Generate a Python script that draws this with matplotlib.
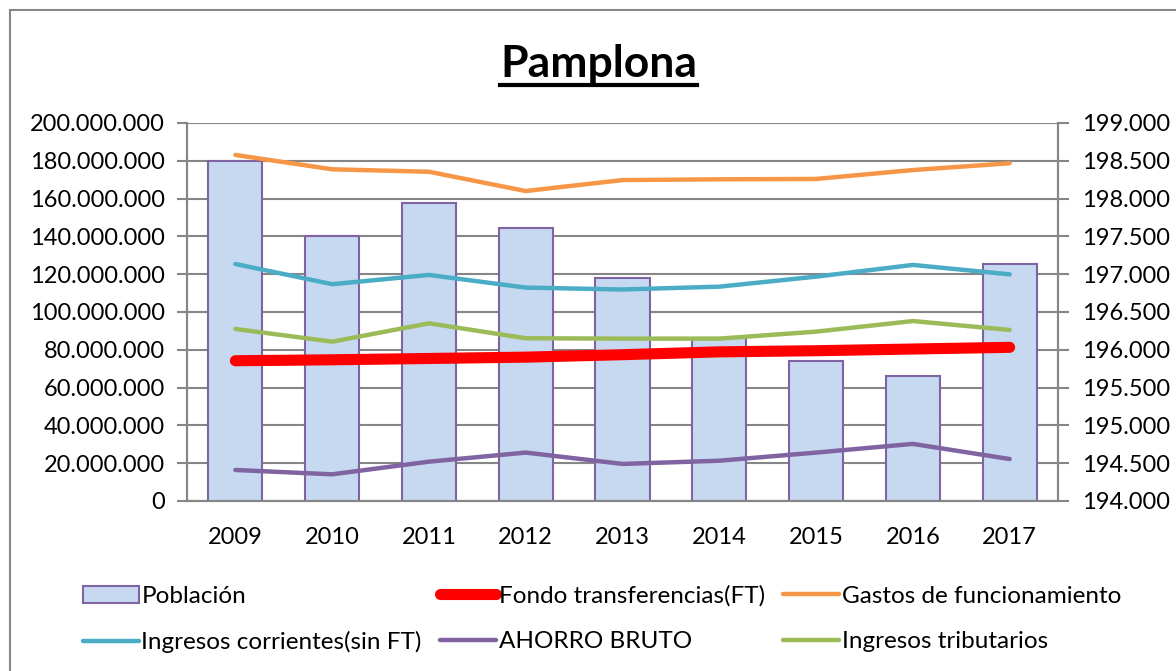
import matplotlib.pyplot as plt
import matplotlib.patches as mpatches
from matplotlib.lines import Line2D
from matplotlib.ticker import FuncFormatter, MultipleLocator
import numpy as np

plt.rcParams['font.family'] = ['Lato', 'DejaVu Sans']

# datos
years = ["2009", "2010", "2011", "2012", "2013", "2014", "2015", "2016", "2017"]
poblacion = [198500, 197500, 197940, 197610, 196950, 196150, 195850, 195650, 197135]
fondo_ft = [74.2e6, 74.7e6, 75.4e6, 76.1e6, 77.4e6, 78.9e6, 79.5e6, 80.4e6, 81.3e6]
gastos_func = [183.1e6, 175.5e6, 174.2e6, 164.0e6, 169.8e6, 170.2e6, 170.4e6, 175.1e6, 178.7e6]
ingresos_corr = [125.4e6, 114.7e6, 119.6e6, 112.9e6, 111.9e6, 113.4e6, 118.7e6, 124.9e6, 119.9e6]
ahorro_bruto = [16.4e6, 14.1e6, 20.8e6, 25.6e6, 19.6e6, 21.3e6, 25.6e6, 30.2e6, 22.2e6]
ingresos_trib = [91.0e6, 84.3e6, 94.0e6, 86.1e6, 85.9e6, 85.9e6, 89.6e6, 95.2e6, 90.5e6]

grid_col = "#868686"
x = np.arange(len(years))


def miles(v, pos):
    return f"{int(round(v)):,}".replace(",", ".")


fig = plt.figure(figsize=(11.76, 6.71), dpi=100)
ax = fig.add_axes([0.159, 0.2534, 0.7407, 0.5633])
ax2 = ax.twinx()

# barras de poblacion (eje derecho)
ax.bar(x, poblacion, width=0.56, color="#C6D9F1", edgecolor="#8064A2", linewidth=1.5,
       label="Población", zorder=2)
ax.set_ylim(194000, 199000)
ax.set_xlim(-0.5, len(years) - 0.5)
ax.yaxis.set_major_locator(MultipleLocator(500))
ax.yaxis.set_major_formatter(FuncFormatter(miles))
ax.grid(axis="y", color=grid_col, linewidth=1.5)
ax.set_axisbelow(True)
ax.set_xticks(x)
ax.set_xticklabels(years)
ax.tick_params(axis="x", length=0, pad=19, labelsize=17)
ax.tick_params(axis="y", length=8, width=1.5, color=grid_col, pad=9, labelsize=17,
               left=False, labelleft=False, right=True, labelright=True)

# lineas (eje izquierdo)
ax2.plot(x, fondo_ft, color="#FF0000", linewidth=8, solid_capstyle="round",
         label="Fondo transferencias(FT)", zorder=3)
ax2.plot(x, gastos_func, color="#F79646", linewidth=3.2, solid_capstyle="round",
         label="Gastos de funcionamiento")
ax2.plot(x, ingresos_corr, color="#4BACC6", linewidth=3.2, solid_capstyle="round",
         label="Ingresos corrientes(sin FT)")
ax2.plot(x, ahorro_bruto, color="#8064A2", linewidth=3.2, solid_capstyle="round",
         label="AHORRO BRUTO")
ax2.plot(x, ingresos_trib, color="#9BBB59", linewidth=3.2, solid_capstyle="round",
         label="Ingresos tributarios")
ax2.set_ylim(0, 200e6)
ax2.yaxis.set_major_locator(MultipleLocator(20e6))
ax2.yaxis.set_major_formatter(FuncFormatter(miles))
ax2.tick_params(axis="y", length=7, width=1.5, color=grid_col, pad=9, labelsize=17,
                left=True, right=False, labelleft=True, labelright=False)

for a in (ax, ax2):
    for s in a.spines.values():
        s.set_color(grid_col)
        s.set_linewidth(1.5)
    a.spines["top"].set_visible(False)

# titulo subrayado
t = fig.text(0.509, 0.905, "Pamplona", ha="center", va="center", fontsize=32,
             fontweight="bold")
fig.canvas.draw()
bb = t.get_window_extent().transformed(fig.transFigure.inverted())
fig.add_artist(Line2D([bb.x0, bb.x1], [bb.y0 - 0.002, bb.y0 - 0.002], color="black",
                      linewidth=3, transform=fig.transFigure))

# leyenda (orden por columnas para que se lea por filas)
h1, l1 = ax.get_legend_handles_labels()
h2, l2 = ax2.get_legend_handles_labels()
hd = dict(zip(l1 + l2, h1 + h2))
orden = ["Población", "Ingresos corrientes(sin FT)", "Fondo transferencias(FT)",
         "AHORRO BRUTO", "Gastos de funcionamiento", "Ingresos tributarios"]
fig.legend([hd[k] for k in orden], orden, loc="upper left", bbox_to_anchor=(0.062, 0.142),
           ncol=3, frameon=False, fontsize=17.5, handlelength=2.3, handletextpad=0.12,
           columnspacing=0.75, labelspacing=1.0, borderaxespad=0)

# marco exterior (el borde derecho y el inferior quedan fuera de la imagen)
fig.add_artist(mpatches.Rectangle((0.0085, -0.01), 1.0, 0.995, transform=fig.transFigure,
                                  fill=False, edgecolor=grid_col, linewidth=1.5))

fig.savefig("out.png", dpi=100)
